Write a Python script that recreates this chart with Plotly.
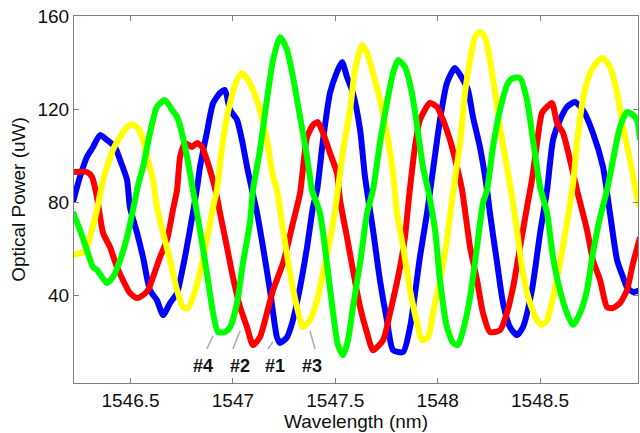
import plotly.graph_objects as go

# Optical power of the four channels versus wavelength
blue_wl = [1546.219, 1546.253, 1546.287, 1546.317, 1546.351, 1546.385, 1546.424, 1546.449, 1546.483, 1546.497,
           1546.532, 1546.561, 1546.595, 1546.629, 1546.659, 1546.693, 1546.727, 1546.756, 1546.790, 1546.825,
           1546.839, 1546.873, 1546.903, 1546.937, 1546.961, 1546.986, 1547.020, 1547.044, 1547.069, 1547.093,
           1547.118, 1547.147, 1547.181, 1547.215, 1547.230, 1547.264, 1547.293, 1547.328, 1547.362, 1547.391,
           1547.411, 1547.440, 1547.474, 1547.508, 1547.533, 1547.557, 1547.586, 1547.621, 1547.645, 1547.684,
           1547.718, 1547.752, 1547.782, 1547.831, 1547.865, 1547.913, 1547.948, 1547.977, 1548.011, 1548.045,
           1548.084, 1548.124, 1548.148, 1548.172, 1548.206, 1548.241, 1548.255, 1548.290, 1548.319, 1548.353,
           1548.387, 1548.416, 1548.460, 1548.500, 1548.534, 1548.563, 1548.597, 1548.631, 1548.670, 1548.709,
           1548.758, 1548.807, 1548.841, 1548.876, 1548.905, 1548.924, 1548.954, 1548.988]
blue_pw = [80.0, 90.8, 99.4, 103.7, 108.8, 106.7, 103.7, 98.1, 89.5, 77.8,
           66.7, 56.3, 42.1, 37.8, 31.4, 36.6, 40.9, 52.0, 68.0, 86.0,
           95.0, 110.0, 122.5, 126.9, 128.2, 119.6, 115.3, 106.7, 95.1, 85.2,
           75.3, 60.6, 42.1, 21.9, 19.4, 21.9, 29.2, 43.4, 60.6, 77.8,
           85.2, 106.7, 126.9, 135.9, 140.2, 133.8, 126.9, 111.0, 90.8, 68.0,
           46.4, 29.2, 16.3, 15.5, 26.2, 56.3, 75.3, 93.8, 115.3, 131.2,
           137.6, 132.5, 128.2, 116.6, 103.7, 85.2, 75.3, 53.8, 36.6, 26.2,
           22.8, 26.2, 42.1, 66.7, 85.2, 106.7, 115.3, 120.9, 123.0, 119.6,
           109.7, 95.1, 75.3, 55.0, 47.7, 43.4, 41.3, 42.1]

red_wl = [1546.219, 1546.287, 1546.312, 1546.336, 1546.366, 1546.400, 1546.434, 1546.463, 1546.497, 1546.532,
          1546.561, 1546.585, 1546.610, 1546.644, 1546.678, 1546.707, 1546.727, 1546.742, 1546.766, 1546.800,
          1546.825, 1546.849, 1546.873, 1546.898, 1546.922, 1546.937, 1546.971, 1547.000, 1547.035, 1547.069,
          1547.098, 1547.132, 1547.166, 1547.196, 1547.245, 1547.293, 1547.328, 1547.362, 1547.391, 1547.415,
          1547.440, 1547.474, 1547.508, 1547.523, 1547.557, 1547.586, 1547.621, 1547.655, 1547.684, 1547.733,
          1547.767, 1547.816, 1547.840, 1547.860, 1547.889, 1547.913, 1547.962, 1547.997, 1548.026, 1548.060,
          1548.094, 1548.119, 1548.158, 1548.192, 1548.221, 1548.255, 1548.304, 1548.338, 1548.368, 1548.402,
          1548.436, 1548.460, 1548.485, 1548.509, 1548.534, 1548.558, 1548.583, 1548.612, 1548.646, 1548.680,
          1548.729, 1548.758, 1548.793, 1548.827, 1548.856, 1548.890, 1548.924, 1548.954, 1548.988]
red_pw = [92.9, 92.9, 90.8, 82.2, 66.7, 60.6, 52.0, 46.4, 40.9, 38.7,
          40.0, 42.1, 47.7, 56.3, 63.7, 76.6, 85.2, 99.4, 105.4, 103.7,
          105.4, 103.7, 98.1, 90.8, 82.2, 75.3, 60.6, 47.7, 34.8, 26.2,
          18.5, 21.9, 32.3, 42.1, 53.8, 71.0, 83.9, 108.0, 113.1, 114.4,
          109.7, 101.1, 92.5, 80.9, 64.9, 50.8, 34.8, 23.7, 16.3, 20.6,
          32.3, 52.0, 64.9, 82.2, 103.7, 115.3, 122.6, 120.9, 115.3, 106.7,
          95.1, 85.2, 60.6, 46.4, 32.3, 24.1, 24.9, 32.3, 43.4, 60.6,
          77.8, 89.5, 105.4, 118.3, 120.9, 122.6, 114.0, 109.7, 98.1, 85.2,
          68.0, 55.0, 46.4, 34.8, 34.4, 36.6, 42.1, 53.8, 64.9]

yellow_wl = [1546.219, 1546.253, 1546.278, 1546.302, 1546.336, 1546.366, 1546.414, 1546.449, 1546.483, 1546.507,
             1546.537, 1546.561, 1546.585, 1546.610, 1546.629, 1546.659, 1546.693, 1546.727, 1546.756, 1546.781,
             1546.805, 1546.839, 1546.873, 1546.903, 1546.922, 1546.952, 1546.986, 1547.020, 1547.044, 1547.074,
             1547.098, 1547.132, 1547.166, 1547.196, 1547.215, 1547.245, 1547.279, 1547.313, 1547.342, 1547.376,
             1547.411, 1547.440, 1547.474, 1547.508, 1547.538, 1547.572, 1547.596, 1547.630, 1547.655, 1547.684,
             1547.718, 1547.752, 1547.782, 1547.801, 1547.831, 1547.865, 1547.899, 1547.923, 1547.953, 1547.977,
             1548.011, 1548.045, 1548.070, 1548.109, 1548.133, 1548.158, 1548.182, 1548.206, 1548.231, 1548.255,
             1548.280, 1548.304, 1548.338, 1548.363, 1548.387, 1548.416, 1548.451, 1548.485, 1548.509, 1548.534,
             1548.563, 1548.597, 1548.631, 1548.661, 1548.680, 1548.709, 1548.744, 1548.778, 1548.807, 1548.841,
             1548.876, 1548.905, 1548.939, 1548.973, 1548.988]
yellow_pw = [57.2, 58.1, 58.5, 64.9, 76.6, 89.5, 102.4, 108.0, 112.3, 113.5,
             111.8, 106.7, 98.1, 89.5, 77.8, 66.7, 55.0, 42.1, 34.8, 34.4,
             39.1, 49.5, 63.7, 77.8, 85.2, 106.7, 122.6, 132.5, 135.5, 132.5,
             128.2, 119.6, 106.7, 90.8, 85.2, 68.0, 49.5, 34.8, 26.2, 29.2,
             37.8, 49.5, 63.7, 82.2, 102.4, 119.6, 136.8, 147.5, 144.1, 135.5,
             123.9, 109.7, 92.5, 75.3, 60.6, 42.1, 28.0, 20.6, 21.9, 32.3,
             46.4, 63.7, 80.9, 105.4, 126.9, 141.1, 151.0, 153.1, 151.0, 141.1,
             126.9, 112.3, 95.1, 82.2, 68.0, 49.5, 36.6, 29.2, 27.1, 29.2,
             39.1, 53.8, 71.0, 88.0, 105.4, 123.9, 135.5, 140.2, 141.9, 138.1,
             126.9, 112.3, 98.1, 82.2, 77.8]

green_wl = [1546.219, 1546.253, 1546.287, 1546.317, 1546.336, 1546.361, 1546.385, 1546.414, 1546.449, 1546.483,
            1546.512, 1546.537, 1546.561, 1546.595, 1546.629, 1546.668, 1546.703, 1546.727, 1546.751, 1546.776,
            1546.805, 1546.839, 1546.873, 1546.903, 1546.927, 1546.961, 1546.986, 1547.020, 1547.049, 1547.083,
            1547.098, 1547.132, 1547.166, 1547.196, 1547.230, 1547.264, 1547.293, 1547.328, 1547.362, 1547.386,
            1547.425, 1547.459, 1547.489, 1547.513, 1547.538, 1547.562, 1547.586, 1547.621, 1547.655, 1547.684,
            1547.718, 1547.752, 1547.782, 1547.806, 1547.840, 1547.874, 1547.904, 1547.928, 1547.953, 1547.987,
            1548.011, 1548.045, 1548.075, 1548.099, 1548.124, 1548.158, 1548.192, 1548.221, 1548.241, 1548.270,
            1548.304, 1548.343, 1548.368, 1548.402, 1548.436, 1548.465, 1548.500, 1548.534, 1548.563, 1548.597,
            1548.631, 1548.661, 1548.695, 1548.729, 1548.758, 1548.793, 1548.827, 1548.856, 1548.890, 1548.924,
            1548.954, 1548.973, 1548.988]
green_pw = [75.7, 68.0, 59.4, 52.0, 50.8, 47.7, 45.2, 47.7, 55.0, 64.9,
            76.6, 87.3, 95.1, 109.7, 120.9, 123.9, 119.6, 116.6, 109.7, 99.4,
            85.2, 68.0, 49.5, 32.3, 24.1, 24.1, 26.2, 36.6, 53.8, 71.0,
            85.2, 102.4, 123.9, 141.1, 151.0, 145.4, 133.8, 116.6, 99.4, 85.2,
            75.3, 53.8, 32.3, 18.5, 14.2, 20.6, 34.8, 53.8, 75.3, 85.2,
            105.4, 122.6, 135.5, 141.1, 138.1, 126.9, 109.7, 95.1, 85.2, 68.0,
            46.4, 26.2, 19.4, 18.5, 24.9, 39.1, 60.6, 79.6, 85.2, 103.7,
            119.6, 131.2, 133.3, 133.3, 123.9, 106.7, 86.5, 75.3, 56.3, 42.1,
            32.3, 27.1, 32.3, 42.1, 58.1, 73.5, 85.2, 98.1, 112.3, 118.7,
            117.4, 115.3, 106.7]

x_ticks = [1546.5, 1547.0, 1547.5, 1548.0, 1548.5]
x_tick_text = ["1546.5", "1547", "1547.5", "1548", "1548.5"]
y_ticks = [40, 80, 120, 160]

channel_labels = ["#4", "#2", "#1", "#3"]
label_wl = [1546.854, 1547.035, 1547.205, 1547.386]
label_pw = 9.6
# leader line ends: (x0, y0) near label, (x1, y1) at the curve
leaders = [
    (1546.873, 16.8, 1546.903, 22.5),
    (1547.000, 16.8, 1547.035, 24.6),
    (1547.171, 16.8, 1547.196, 20.0),
    (1547.401, 16.8, 1547.376, 24.6),
]

series = [
    (blue_wl, blue_pw, "#0000ff"),
    (red_wl, red_pw, "#ff0000"),
    (yellow_wl, yellow_pw, "#ffff00"),
    (green_wl, green_pw, "#00ff00"),
]

fig = go.Figure()
for wl, pw, color in series:
    fig.add_trace(go.Scatter(
        x=wl, y=pw, mode="lines",
        line=dict(color=color, width=6, shape="spline", smoothing=0.6),
        showlegend=False, hoverinfo="skip",
    ))

for name, xl in zip(channel_labels, label_wl):
    fig.add_annotation(x=xl, y=label_pw, text="<b>%s</b>" % name, showarrow=False,
                       font=dict(family="Liberation Sans, Arial", size=18, color="#111111"))

for x0, y0, x1, y1 in leaders:
    fig.add_shape(type="line", x0=x0, y0=y0, x1=x1, y1=y1,
                  line=dict(color="#aaaaaa", width=1.5))

axis_common = dict(
    showgrid=False, zeroline=False,
    showline=True, linecolor="#808080", linewidth=1, mirror="ticks",
    ticks="inside", ticklen=5, tickcolor="#808080", tickwidth=1,
    tickfont=dict(family="Liberation Sans, Arial", size=19, color="#111111"),
)

fig.update_xaxes(range=[1546.224, 1548.978], tickvals=x_ticks, ticktext=x_tick_text,
                 title=dict(text="Wavelength (nm)", standoff=2,
                            font=dict(family="Liberation Sans, Arial", size=19, color="#111111")),
                 **axis_common)
fig.update_yaxes(range=[2.2, 160], tickvals=y_ticks,
                 title=dict(text="Optical Power (uW)", standoff=6,
                            font=dict(family="Liberation Sans, Arial", size=19, color="#111111")),
                 **axis_common)

fig.update_layout(
    width=640, height=433,
    margin=dict(l=74, r=2, t=16, b=50),
    paper_bgcolor="white", plot_bgcolor="white",
)

fig.write_html("out.html")
